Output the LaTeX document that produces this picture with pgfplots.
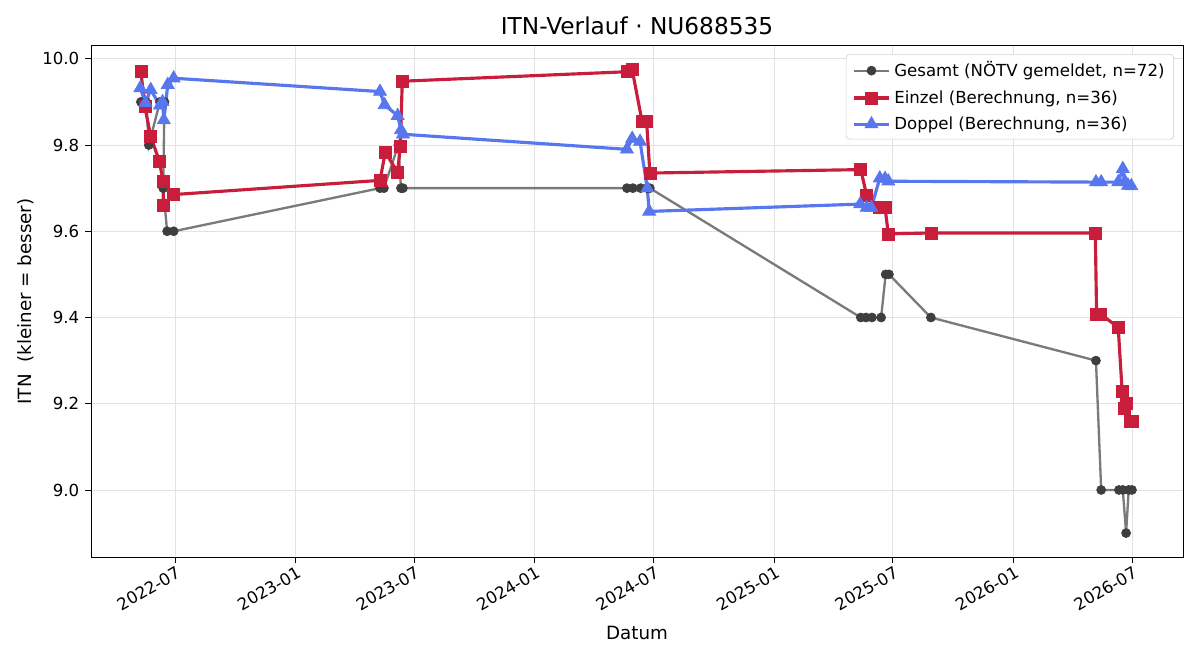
\documentclass[border=0pt]{standalone}
\usepackage{fontspec}
\setmainfont{DejaVu Sans}
\usepackage{pgfplots}
\pgfplotsset{compat=1.18}

\definecolor{gline}{RGB}{122,122,122}
\definecolor{gmark}{RGB}{62,62,62}
\definecolor{einzel}{RGB}{200,30,60}
\definecolor{doppel}{RGB}{88,118,238}
\definecolor{gridc}{RGB}{226,226,226}

% x values: days since 2022-07-01
\begin{document}
\begin{tikzpicture}
\useasboundingbox (-54.6bp,-61.8bp) rectangle (665.4bp,334.2bp);
\begin{axis}[
  scale only axis,
  width=655.2bp, height=306.6bp,
  xmin=-128.2, xmax=1538.9,
  ymin=8.8445, ymax=10.0297,
  font=\fontsize{10}{12}\selectfont,
  /pgf/number format/assume math mode=true,
  xtick={0,184,365,549,731,915,1096,1280,1461},
  xticklabels={2022-07,2023-01,2023-07,2024-01,2024-07,2025-01,2025-07,2026-01,2026-07},
  xticklabel style={rotate=30, anchor=north east, inner sep=1.5bp, xshift=1bp},
  ytick={9.0,9.2,9.4,9.6,9.8,10.0},
  yticklabel style={/pgf/number format/fixed, /pgf/number format/fixed zerofill, /pgf/number format/precision=1},
  tick align=outside, tick pos=left,
  major tick length=3.5bp,
  tick style={black, line width=0.5pt},
  axis line style={black, line width=0.6pt},
  grid=major,
  major grid style={draw=gridc, line width=0.5pt},
  title={ITN-Verlauf · NU688535},
  title style={font=\fontsize{14}{16}\selectfont, yshift=-3bp},
  xlabel={Datum},
  ylabel={ITN\ \ (kleiner = besser)},
  label style={font=\fontsize{11}{13}\selectfont},
  xlabel style={yshift=-3bp},
  ylabel style={yshift=-2bp},
  legend cell align=left,
  legend style={at={(0.9918,0.9843)}, anchor=north east, draw=black!18, rounded corners=2bp,
    fill=white, font=\fontsize{10}{12}\selectfont, inner xsep=3.5bp, inner ysep=2.5bp,
    row sep=2.6bp},
  legend image code/.code={%
    \draw[mark repeat=2,mark phase=2] plot coordinates {(0cm,0cm) (0.38cm,0cm) (0.76cm,0cm)};},
]
\addplot[color=gline, line width=1.4pt, mark=*, mark size=2.7bp,
  mark options={fill=gmark, draw=gmark, line width=0.4pt}] coordinates {
  (-52,9.9) (-44,9.9) (-40,9.8) (-23,9.9) (-16,9.9) (-18,9.7) (-12,9.6) (-2,9.6)
  (313,9.7) (319,9.7) (341,9.8) (345,9.7) (348,9.7)
  (690,9.7) (699,9.7) (711,9.7) (721,9.7) (725,9.7)
  (1047,9.4) (1055,9.4) (1064,9.4) (1078,9.4) (1085,9.5) (1090,9.5) (1154,9.4)
  (1406,9.3) (1414,9.0) (1441,9.0) (1447,9.0) (1452,8.9) (1456,9.0) (1461,9.0)
};
\addlegendentry{Gesamt (NÖTV gemeldet, n=72)}
\addplot[color=einzel, line width=1.9pt, mark=square*, mark size=3.6bp,
  mark options={fill=einzel, draw=einzel, line width=0.4pt}] coordinates {
  (-52,9.970) (-46,9.889) (-37,9.820) (-24,9.763) (-18,9.715) (-18,9.659) (-3,9.685)
  (313,9.718) (321,9.783) (340,9.737) (344,9.798) (347,9.948)
  (690,9.970) (698,9.975) (713,9.855) (720,9.855) (725,9.735)
  (1047,9.743) (1056,9.683) (1076,9.655) (1084,9.655) (1089,9.594) (1154,9.596)
  (1405,9.596) (1407,9.408) (1413,9.408) (1440,9.377) (1446,9.228) (1449,9.190) (1452,9.200) (1458,9.160) (1461,9.160)
};
\addlegendentry{Einzel (Berechnung, n=36)}
\addplot[color=doppel, line width=1.9pt, mark=triangle*, mark size=4.5bp,
  mark options={fill=doppel, draw=doppel, line width=0.4pt}] coordinates {
  (-53,9.932) (-45,9.898) (-37,9.928) (-23,9.892) (-19,9.900) (-17,9.858) (-11,9.940) (-2,9.955)
  (313,9.924) (320,9.893) (340,9.868) (345,9.835) (348,9.825)
  (690,9.790) (698,9.815) (710,9.808) (721,9.700) (724,9.646)
  (1046,9.663) (1056,9.655) (1063,9.655) (1076,9.723) (1084,9.722) (1089,9.716)
  (1406,9.714) (1414,9.714) (1440,9.714) (1447,9.745) (1450,9.716) (1455,9.706) (1460,9.705)
};
\addlegendentry{Doppel (Berechnung, n=36)}
\end{axis}
\end{tikzpicture}
\end{document}
